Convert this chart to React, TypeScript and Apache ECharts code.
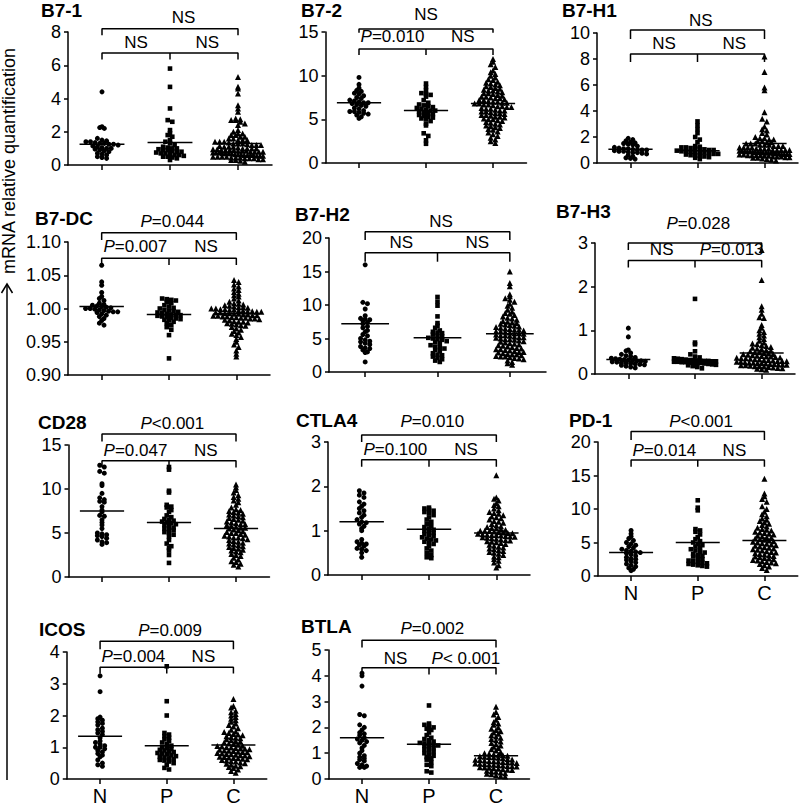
import React, { useEffect, useRef } from "react";
import * as echarts from "echarts";

const GROUPS = ["N", "P", "C"];

// ---------- data ----------
const B71_N = [4.4, 2.3, 2.25, 2.2, 1.6, 1.5, 1.45, 1.4, 1.4, 1.35, 1.3, 1.3, 1.25, 1.25, 1.2, 1.15, 1.1, 1.05, 1.0, 1.0, 0.95, 0.9, 0.85, 0.8, 0.7, 0.65, 0.6, 0.5, 0.45, 0.4];
const B71_P = [5.8, 4.7, 3.4, 2.7, 2.6, 2.1, 1.9, 1.8, 1.7, 1.5, 1.4, 1.3, 1.2, 1.1, 1.05, 1.0, 1.0, 0.95, 0.9, 0.9, 0.85, 0.8, 0.8, 0.75, 0.7, 0.7, 0.65, 0.6, 0.6, 0.55, 0.5, 0.5, 0.45, 0.4, 0.3];
const B71_C = [5.3, 4.7, 4.6, 4.3, 3.6, 3.4, 3.2, 2.8, 2.75, 2.7, 2.7, 2.6, 2.5, 2.4, 2.1, 2.0, 1.9, 1.9, 1.8, 1.8, 1.7, 1.7, 1.6, 1.6, 1.5, 1.5, 1.5, 1.4, 1.4, 1.4, 1.35, 1.3, 1.3, 1.3, 1.25, 1.2, 1.2, 1.2, 1.15, 1.1, 1.1, 1.1, 1.05, 1.0, 1.0, 1.0, 1.0, 0.95, 0.95, 0.9, 0.9, 0.9, 0.9, 0.85, 0.85, 0.85, 0.8, 0.8, 0.8, 0.8, 0.75, 0.75, 0.75, 0.7, 0.7, 0.7, 0.7, 0.65, 0.65, 0.65, 0.6, 0.6, 0.6, 0.6, 0.55, 0.55, 0.55, 0.5, 0.5, 0.5, 0.5, 0.45, 0.45, 0.45, 0.4, 0.4, 0.4, 0.35, 0.35, 0.3, 0.3, 0.25, 0.2];
const B71_LINE = [1.25, 1.35, 1.3];

const B72_N = [9.8, 9.0, 8.6, 8.3, 8.2, 8.0, 7.9, 7.7, 7.5, 7.4, 7.2, 7.1, 7.0, 6.9, 6.9, 6.8, 6.7, 6.6, 6.5, 6.3, 6.2, 6.0, 5.9, 5.9, 5.8, 5.7, 5.6, 5.5, 5.3, 5.1];
const B72_P = [9.1, 8.7, 8.3, 8.0, 7.9, 7.8, 7.6, 7.2, 6.9, 6.7, 6.6, 6.5, 6.4, 6.3, 6.2, 6.1, 6.0, 6.0, 5.9, 5.8, 5.7, 5.6, 5.5, 5.4, 5.3, 5.2, 5.1, 5.0, 4.8, 4.5, 4.3, 3.4, 3.1, 2.6, 2.2];
const B72_C = [11.9, 11.6, 11.3, 11.0, 10.6, 10.4, 10.2, 10.0, 9.8, 9.6, 9.5, 9.3, 9.2, 9.1, 9.0, 8.9, 8.8, 8.7, 8.6, 8.5, 8.4, 8.3, 8.3, 8.2, 8.1, 8.0, 8.0, 7.9, 7.8, 7.7, 7.6, 7.6, 7.5, 7.4, 7.4, 7.3, 7.2, 7.2, 7.1, 7.0, 7.0, 6.9, 6.9, 6.8, 6.8, 6.7, 6.7, 6.6, 6.5, 6.5, 6.4, 6.4, 6.3, 6.2, 6.2, 6.1, 6.0, 6.0, 5.9, 5.9, 5.8, 5.7, 5.7, 5.6, 5.5, 5.5, 5.4, 5.3, 5.3, 5.2, 5.1, 5.0, 5.0, 4.9, 4.8, 4.7, 4.6, 4.5, 4.4, 4.3, 4.2, 4.1, 4.0, 3.9, 3.8, 3.6, 3.5, 3.3, 3.1, 2.9, 2.7, 2.5, 2.3];
const B72_LINE = [6.9, 6.0, 6.8];

const B7H1_N = [1.9, 1.8, 1.7, 1.6, 1.55, 1.5, 1.45, 1.4, 1.3, 1.2, 1.15, 1.1, 1.1, 1.05, 1.0, 1.0, 1.0, 0.95, 0.9, 0.9, 0.85, 0.8, 0.8, 0.75, 0.7, 0.6, 0.5, 0.4, 0.35, 0.3];
const B7H1_P = [3.2, 2.9, 2.6, 2.3, 2.0, 1.8, 1.6, 1.3, 1.25, 1.2, 1.2, 1.15, 1.1, 1.1, 1.05, 1.0, 1.0, 0.95, 0.9, 0.9, 0.85, 0.85, 0.8, 0.8, 0.75, 0.7, 0.7, 0.65, 0.6, 0.6, 0.55, 0.5, 0.45, 0.4, 0.3];
const B7H1_C = [8.2, 7.0, 5.8, 5.6, 3.9, 3.4, 3.2, 2.8, 2.6, 2.5, 2.3, 2.2, 2.0, 1.9, 1.9, 1.8, 1.8, 1.7, 1.7, 1.6, 1.6, 1.5, 1.5, 1.5, 1.4, 1.4, 1.4, 1.3, 1.3, 1.3, 1.2, 1.2, 1.2, 1.2, 1.1, 1.1, 1.1, 1.1, 1.0, 1.0, 1.0, 1.0, 1.0, 0.95, 0.95, 0.9, 0.9, 0.9, 0.9, 0.85, 0.85, 0.85, 0.8, 0.8, 0.8, 0.8, 0.75, 0.75, 0.75, 0.7, 0.7, 0.7, 0.7, 0.65, 0.65, 0.6, 0.6, 0.6, 0.6, 0.55, 0.55, 0.5, 0.5, 0.5, 0.45, 0.45, 0.4, 0.4, 0.35, 0.3, 0.25, 0.2];
const B7H1_LINE = [1.05, 0.95, 1.5];

const B7DC_N = [1.065, 1.04, 1.035, 1.024, 1.018, 1.015, 1.012, 1.008, 1.006, 1.005, 1.004, 1.003, 1.002, 1.001, 1.0, 1.0, 0.999, 0.998, 0.997, 0.996, 0.995, 0.995, 0.994, 0.992, 0.99, 0.988, 0.985, 0.982, 0.978, 0.975];
const B7DC_P = [1.015, 1.014, 1.013, 1.012, 1.01, 1.008, 1.005, 1.003, 1.001, 1.0, 0.998, 0.997, 0.996, 0.995, 0.994, 0.993, 0.992, 0.991, 0.99, 0.99, 0.989, 0.988, 0.987, 0.986, 0.985, 0.984, 0.983, 0.982, 0.98, 0.978, 0.975, 0.972, 0.968, 0.96, 0.925];
const B7DC_C = [1.043, 1.04, 1.036, 1.033, 1.03, 1.028, 1.025, 1.022, 1.02, 1.018, 1.015, 1.012, 1.01, 1.008, 1.007, 1.006, 1.005, 1.004, 1.003, 1.002, 1.002, 1.001, 1.0, 1.0, 0.999, 0.999, 0.998, 0.998, 0.997, 0.997, 0.996, 0.996, 0.995, 0.995, 0.994, 0.994, 0.993, 0.993, 0.992, 0.992, 0.991, 0.991, 0.99, 0.99, 0.989, 0.989, 0.988, 0.988, 0.987, 0.987, 0.986, 0.986, 0.985, 0.985, 0.984, 0.983, 0.982, 0.981, 0.98, 0.98, 0.979, 0.978, 0.977, 0.976, 0.975, 0.974, 0.972, 0.97, 0.968, 0.966, 0.964, 0.962, 0.96, 0.957, 0.954, 0.95, 0.946, 0.942, 0.937, 0.932, 0.928];
const B7DC_LINE = [1.003, 0.991, 0.992];

const B7H2_N = [16.0, 10.4, 10.2, 9.4, 8.4, 8.0, 7.9, 7.8, 7.7, 7.4, 7.2, 6.8, 6.6, 6.2, 6.0, 5.6, 5.4, 5.0, 4.8, 4.6, 4.5, 4.3, 4.1, 3.8, 3.6, 3.5, 3.3, 3.0, 2.9, 1.5];
const B7H2_P = [11.2, 10.5, 9.9, 8.3, 7.3, 6.9, 6.6, 6.2, 6.0, 5.9, 5.8, 5.6, 5.4, 5.3, 5.1, 5.0, 4.9, 4.8, 4.6, 4.5, 4.3, 4.0, 3.8, 3.7, 3.5, 3.3, 3.1, 2.8, 2.6, 2.5, 2.3, 2.1, 1.9, 1.7, 1.5];
const B7H2_C = [15.0, 13.3, 12.8, 11.6, 11.3, 11.0, 10.8, 10.5, 10.2, 9.9, 9.6, 9.3, 9.0, 8.8, 8.7, 8.5, 8.3, 8.1, 8.0, 7.8, 7.6, 7.5, 7.4, 7.3, 7.2, 7.1, 7.0, 6.9, 6.8, 6.7, 6.6, 6.5, 6.4, 6.3, 6.3, 6.2, 6.1, 6.1, 6.0, 5.9, 5.8, 5.8, 5.7, 5.6, 5.5, 5.5, 5.4, 5.3, 5.2, 5.2, 5.1, 5.0, 4.9, 4.9, 4.8, 4.7, 4.6, 4.5, 4.4, 4.3, 4.2, 4.1, 4.0, 3.9, 3.8, 3.7, 3.6, 3.5, 3.4, 3.4, 3.3, 3.2, 3.1, 3.0, 3.0, 2.9, 2.8, 2.7, 2.6, 2.6, 2.5, 2.4, 2.3, 2.3, 2.2, 2.1, 2.0, 1.9, 1.7, 1.5, 1.3, 1.1];
const B7H2_LINE = [7.2, 5.1, 5.7];

const B7H3_N = [1.05, 0.85, 0.55, 0.53, 0.48, 0.45, 0.42, 0.4, 0.38, 0.36, 0.35, 0.34, 0.33, 0.32, 0.31, 0.3, 0.3, 0.29, 0.28, 0.27, 0.26, 0.25, 0.24, 0.23, 0.22, 0.21, 0.2, 0.18, 0.16, 0.14];
const B7H3_P = [1.72, 0.72, 0.68, 0.52, 0.45, 0.4, 0.38, 0.36, 0.35, 0.34, 0.33, 0.32, 0.32, 0.31, 0.3, 0.3, 0.3, 0.29, 0.29, 0.28, 0.28, 0.27, 0.27, 0.26, 0.26, 0.25, 0.25, 0.24, 0.23, 0.22, 0.21, 0.2, 0.18, 0.16, 0.13];
const B7H3_C = [2.84, 2.15, 1.55, 1.47, 1.38, 1.3, 1.28, 1.12, 1.06, 1.0, 0.96, 0.92, 0.88, 0.84, 0.8, 0.76, 0.72, 0.7, 0.68, 0.66, 0.64, 0.62, 0.6, 0.58, 0.57, 0.55, 0.54, 0.52, 0.5, 0.5, 0.48, 0.47, 0.46, 0.45, 0.44, 0.43, 0.42, 0.41, 0.4, 0.4, 0.39, 0.38, 0.37, 0.36, 0.36, 0.35, 0.34, 0.33, 0.32, 0.32, 0.31, 0.3, 0.3, 0.29, 0.28, 0.28, 0.27, 0.26, 0.26, 0.25, 0.25, 0.24, 0.23, 0.23, 0.22, 0.22, 0.21, 0.2, 0.2, 0.19, 0.18, 0.18, 0.17, 0.16, 0.15, 0.14, 0.13, 0.12, 0.11, 0.1];
const B7H3_LINE = [0.33, 0.32, 0.48];

const CD28_N = [12.7, 12.5, 12.0, 11.8, 10.6, 10.4, 9.5, 9.0, 8.8, 8.6, 8.5, 8.0, 7.6, 7.4, 7.0, 6.9, 6.5, 6.2, 5.9, 5.5, 5.0, 4.9, 4.8, 4.7, 4.6, 4.4, 4.2, 4.0, 3.9, 3.7];
const CD28_P = [12.5, 12.2, 9.8, 9.6, 8.2, 8.0, 7.9, 7.6, 7.4, 7.0, 6.8, 6.6, 6.5, 6.4, 6.3, 6.2, 6.1, 6.0, 5.9, 5.8, 5.6, 5.5, 5.4, 5.3, 5.1, 5.0, 4.8, 4.6, 4.2, 3.8, 3.5, 3.3, 3.0, 2.5, 1.6];
const CD28_C = [10.5, 10.2, 9.9, 9.6, 9.3, 9.1, 8.9, 8.7, 8.5, 8.2, 7.9, 7.7, 7.6, 7.5, 7.4, 7.3, 7.2, 7.1, 7.0, 6.9, 6.8, 6.7, 6.6, 6.5, 6.4, 6.3, 6.2, 6.1, 6.0, 6.0, 5.9, 5.8, 5.7, 5.6, 5.6, 5.5, 5.4, 5.3, 5.2, 5.1, 5.0, 5.0, 4.9, 4.8, 4.7, 4.6, 4.5, 4.5, 4.4, 4.3, 4.2, 4.1, 4.0, 3.9, 3.8, 3.7, 3.6, 3.5, 3.4, 3.3, 3.2, 3.1, 3.0, 2.9, 2.8, 2.6, 2.5, 2.4, 2.2, 2.0, 1.8, 1.7, 1.5, 1.4, 1.2];
const CD28_LINE = [7.5, 6.2, 5.5];

const CTLA4_N = [1.9, 1.85, 1.8, 1.75, 1.65, 1.6, 1.55, 1.5, 1.45, 1.4, 1.35, 1.3, 1.25, 1.2, 1.18, 1.15, 1.1, 1.05, 1.0, 0.8, 0.75, 0.72, 0.7, 0.68, 0.65, 0.6, 0.58, 0.55, 0.5, 0.4];
const CTLA4_P = [1.52, 1.5, 1.48, 1.45, 1.42, 1.4, 1.35, 1.3, 1.25, 1.2, 1.15, 1.1, 1.08, 1.05, 1.02, 1.0, 0.98, 0.95, 0.92, 0.9, 0.88, 0.85, 0.82, 0.8, 0.78, 0.75, 0.72, 0.7, 0.65, 0.6, 0.55, 0.5, 0.45, 0.4, 0.38];
const CTLA4_C = [2.25, 1.75, 1.72, 1.68, 1.62, 1.58, 1.55, 1.5, 1.46, 1.42, 1.4, 1.38, 1.35, 1.32, 1.3, 1.28, 1.25, 1.22, 1.2, 1.18, 1.15, 1.12, 1.1, 1.08, 1.06, 1.05, 1.04, 1.02, 1.0, 1.0, 0.99, 0.98, 0.97, 0.96, 0.95, 0.94, 0.93, 0.92, 0.91, 0.9, 0.9, 0.89, 0.88, 0.87, 0.86, 0.85, 0.84, 0.83, 0.82, 0.8, 0.79, 0.78, 0.76, 0.75, 0.74, 0.72, 0.7, 0.68, 0.66, 0.64, 0.62, 0.6, 0.58, 0.56, 0.54, 0.52, 0.5, 0.48, 0.45, 0.42, 0.4, 0.36, 0.32, 0.28, 0.22, 0.17];
const CTLA4_LINE = [1.2, 1.03, 0.95];

const PD1_N = [6.8, 6.3, 5.9, 5.6, 5.3, 5.0, 4.8, 4.6, 4.4, 4.2, 4.0, 3.8, 3.7, 3.6, 3.5, 3.4, 3.2, 3.0, 2.8, 2.6, 2.5, 2.4, 2.2, 2.0, 1.8, 1.6, 1.4, 1.2, 1.0, 0.8];
const PD1_P = [11.3, 10.2, 9.8, 7.0, 6.8, 6.6, 6.2, 5.8, 5.5, 5.2, 5.0, 4.8, 4.6, 4.4, 4.2, 4.0, 3.8, 3.6, 3.5, 3.3, 3.1, 3.0, 2.9, 2.7, 2.5, 2.3, 2.2, 2.1, 2.0, 1.9, 1.8, 1.7, 1.6, 1.5, 1.4];
const PD1_C = [14.5, 12.3, 11.9, 11.5, 11.1, 10.4, 10.0, 9.6, 9.2, 8.9, 8.6, 8.4, 8.2, 8.0, 7.8, 7.6, 7.4, 7.2, 7.0, 6.9, 6.8, 6.6, 6.5, 6.4, 6.3, 6.2, 6.0, 5.9, 5.8, 5.7, 5.6, 5.5, 5.4, 5.3, 5.2, 5.1, 5.0, 4.9, 4.8, 4.7, 4.6, 4.5, 4.4, 4.3, 4.2, 4.1, 4.0, 3.9, 3.8, 3.7, 3.6, 3.5, 3.4, 3.3, 3.2, 3.1, 3.0, 2.9, 2.8, 2.7, 2.6, 2.5, 2.4, 2.3, 2.2, 2.1, 2.0, 1.9, 1.8, 1.6, 1.4, 1.2, 0.9];
const PD1_LINE = [3.5, 5.0, 5.3];

const ICOS_N = [3.25, 2.75, 1.95, 1.9, 1.85, 1.8, 1.75, 1.7, 1.6, 1.55, 1.5, 1.45, 1.4, 1.3, 1.2, 1.15, 1.1, 1.05, 1.0, 1.0, 0.95, 0.9, 0.85, 0.8, 0.75, 0.7, 0.6, 0.5, 0.45, 0.4];
const ICOS_P = [3.55, 2.45, 2.0, 1.45, 1.4, 1.35, 1.3, 1.25, 1.2, 1.15, 1.1, 1.05, 1.0, 0.98, 0.95, 0.92, 0.9, 0.88, 0.85, 0.82, 0.8, 0.78, 0.75, 0.72, 0.7, 0.68, 0.65, 0.62, 0.6, 0.58, 0.55, 0.5, 0.45, 0.35, 0.3];
const ICOS_C = [2.52, 2.3, 2.25, 2.15, 2.1, 2.05, 2.0, 1.95, 1.9, 1.85, 1.8, 1.75, 1.7, 1.65, 1.6, 1.55, 1.5, 1.48, 1.45, 1.42, 1.4, 1.38, 1.35, 1.32, 1.3, 1.28, 1.25, 1.22, 1.2, 1.18, 1.15, 1.12, 1.1, 1.08, 1.05, 1.04, 1.02, 1.0, 0.99, 0.98, 0.96, 0.95, 0.94, 0.92, 0.9, 0.89, 0.88, 0.86, 0.85, 0.84, 0.82, 0.8, 0.79, 0.78, 0.76, 0.75, 0.74, 0.72, 0.7, 0.69, 0.68, 0.66, 0.65, 0.64, 0.62, 0.6, 0.58, 0.56, 0.55, 0.52, 0.5, 0.48, 0.45, 0.42, 0.4, 0.38, 0.35, 0.3, 0.25, 0.2];
const ICOS_LINE = [1.35, 1.05, 1.07];

const BTLA_N = [4.1, 4.0, 3.6, 2.5, 2.45, 2.1, 2.0, 1.9, 1.8, 1.75, 1.7, 1.6, 1.55, 1.5, 1.45, 1.4, 1.3, 1.2, 1.1, 1.0, 0.9, 0.85, 0.8, 0.75, 0.7, 0.6, 0.55, 0.5, 0.45, 0.45];
const BTLA_P = [2.85, 2.15, 2.1, 2.05, 2.0, 1.95, 1.9, 1.8, 1.7, 1.6, 1.55, 1.5, 1.45, 1.4, 1.38, 1.35, 1.32, 1.3, 1.28, 1.25, 1.2, 1.15, 1.1, 1.05, 1.0, 0.95, 0.9, 0.85, 0.8, 0.75, 0.65, 0.55, 0.5, 0.3, 0.25];
const BTLA_C = [2.8, 2.6, 2.5, 2.4, 2.3, 2.2, 2.15, 2.1, 2.0, 1.95, 1.9, 1.85, 1.8, 1.75, 1.7, 1.65, 1.6, 1.55, 1.5, 1.45, 1.4, 1.35, 1.3, 1.25, 1.2, 1.15, 1.1, 1.05, 1.0, 0.98, 0.96, 0.94, 0.92, 0.9, 0.88, 0.86, 0.85, 0.84, 0.82, 0.8, 0.78, 0.76, 0.75, 0.74, 0.72, 0.7, 0.69, 0.68, 0.66, 0.65, 0.64, 0.62, 0.6, 0.59, 0.58, 0.56, 0.55, 0.54, 0.52, 0.5, 0.49, 0.48, 0.46, 0.45, 0.44, 0.42, 0.4, 0.38, 0.36, 0.35, 0.32, 0.3, 0.28, 0.25, 0.22, 0.2, 0.18, 0.15, 0.12, 0.1];
const BTLA_LINE = [1.6, 1.35, 0.9];

// ---------- panel layout ----------
const PANELS = [
  { name: "B7-1", groups: [B71_N, B71_P, B71_C], line: B71_LINE, yMin: 0, yMax: 8, yStep: 2, dec: 0,
    grid: { left: 68, top: 32, width: 204, height: 133 }, title: [41, 0], showX: false,
    top: { y: 8.2, tick: 7.8, text: "NS", ty: 8.85, tx: 2.2 }, low: { y: 6.74, tick: 6.35, ty: 7.35, a: "NS", b: "NS" } },
  { name: "B7-2", groups: [B72_N, B72_P, B72_C], line: B72_LINE, yMin: 0, yMax: 15, yStep: 5, dec: 0,
    grid: { left: 325.5, top: 32, width: 201, height: 131 }, title: [301, 0], showX: false,
    top: { y: 15.35, tick: 14.9, text: "NS", ty: 16.95, tx: 2 }, low: { y: 13.06, tick: 12.37, ty: 14.43, a: "P=0.010", b: "NS" } },
  { name: "B7-H1", groups: [B7H1_N, B7H1_P, B7H1_C], line: B7H1_LINE, yMin: 0, yMax: 10, yStep: 2, dec: 0,
    grid: { left: 597, top: 33, width: 201, height: 130 }, title: [562, 0], showX: false,
    top: { y: 10.23, tick: 9.54, text: "NS", ty: 11.0, tx: 2.05 }, low: { y: 8.38, tick: 7.77, ty: 9.23, a: "NS", b: "NS" } },
  { name: "B7-DC", groups: [B7DC_N, B7DC_P, B7DC_C], line: B7DC_LINE, yMin: 0.9, yMax: 1.1, yStep: 0.05, dec: 2,
    grid: { left: 68, top: 242, width: 202, height: 133 }, title: [35, 208], showX: false,
    top: { y: 1.114, tick: 1.103, text: "P=0.044", ty: 1.1305, tx: 2.05 }, low: { y: 1.0755, tick: 1.0654, ty: 1.093, a: "P=0.007", b: "NS" } },
  { name: "B7-H2", groups: [B7H2_N, B7H2_P, B7H2_C], line: B7H2_LINE, yMin: 0, yMax: 20, yStep: 5, dec: 0,
    grid: { left: 329, top: 238, width: 217, height: 134 }, title: [295, 204], showX: false,
    top: { y: 20.94, tick: 19.7, text: "NS", ty: 22.4, tx: 2.05 }, low: { y: 17.8, tick: 16.46, ty: 19.3, a: "NS", b: "NS" } },
  { name: "B7-H3", groups: [B7H3_N, B7H3_P, B7H3_C], line: B7H3_LINE, yMin: 0, yMax: 3, yStep: 1, dec: 0,
    grid: { left: 595, top: 243, width: 200, height: 131 }, title: [556, 201], showX: false,
    top: { y: 3.0, tick: 2.84, text: "P=0.028", ty: 3.45, tx: 2.05 }, low: { y: 2.6, tick: 2.44, ty: 2.84, a: "NS", b: "P=0.013" } },
  { name: "CD28", groups: [CD28_N, CD28_P, CD28_C], line: CD28_LINE, yMin: 0, yMax: 15, yStep: 5, dec: 0,
    grid: { left: 68.5, top: 445, width: 201, height: 132 }, title: [38, 412], showX: false,
    top: { y: 16.25, tick: 15.4, text: "P<0.001", ty: 17.5, tx: 2.05 }, low: { y: 13.2, tick: 12.45, ty: 14.4, a: "P=0.047", b: "NS" } },
  { name: "CTLA4", groups: [CTLA4_N, CTLA4_P, CTLA4_C], line: CTLA4_LINE, yMin: 0, yMax: 3, yStep: 1, dec: 0,
    grid: { left: 328, top: 442, width: 202, height: 133 }, title: [296, 410], showX: false,
    top: { y: 3.16, tick: 3.0, text: "P=0.010", ty: 3.46, tx: 2.05 }, low: { y: 2.6, tick: 2.44, ty: 2.82, a: "P=0.100", b: "NS" } },
  { name: "PD-1", groups: [PD1_N, PD1_P, PD1_C], line: PD1_LINE, yMin: 0, yMax: 20, yStep: 5, dec: 0,
    grid: { left: 597.75, top: 442, width: 200, height: 134 }, title: [569, 410], showX: true,
    top: { y: 21.55, tick: 20.3, text: "P<0.001", ty: 23.0, tx: 2.05 }, low: { y: 17.3, tick: 16.3, ty: 18.8, a: "P=0.014", b: "NS" } },
  { name: "ICOS", groups: [ICOS_N, ICOS_P, ICOS_C], line: ICOS_LINE, yMin: 0, yMax: 4, yStep: 1, dec: 0,
    grid: { left: 66.75, top: 652, width: 200, height: 131 }, title: [39, 619], showX: true,
    top: { y: 4.34, tick: 4.09, text: "P=0.009", ty: 4.67, tx: 2.05 }, low: { y: 3.52, tick: 3.32, ty: 3.86, a: "P=0.004", b: "NS" } },
  { name: "BTLA", groups: [BTLA_N, BTLA_P, BTLA_C], line: BTLA_LINE, yMin: 0, yMax: 5, yStep: 1, dec: 0,
    grid: { left: 328.5, top: 650, width: 201, height: 132 }, title: [301, 616], showX: true,
    top: { y: 5.38, tick: 5.1, text: "P=0.002", ty: 5.82, tx: 2.05 }, low: { y: 4.31, tick: 4.05, ty: 4.68, a: "NS", b: "P< 0.001" } },
];

const SYMBOLS = ["circle", "rect", "triangle"];
const SYMBOL_SIZES = [5, 4.6, 6];
const MAX_ROW_W = [34, 42, 50];
const BIN_PX = 3.6;
const STEP_PX = 4.6;
const HALF_LINE = 0.33;
const FONT_NAME = "Liberation Sans";
const FONT = "'Liberation Sans', Arial, sans-serif";
const INK = "#000";
const LABEL_SIZE = 17;

function swarm(values: number[], center: number, pxY: number, pxX: number, yMin: number, maxW: number) {
  const bins = new Map<number, number[]>();
  values.forEach((v) => {
    const k = Math.round(((v - yMin) * pxY) / BIN_PX);
    if (!bins.has(k)) bins.set(k, []);
    bins.get(k)!.push(v);
  });
  const out: number[][] = [];
  bins.forEach((list) => {
    const n = list.length;
    const step = n > 1 ? Math.min(STEP_PX, maxW / (n - 1)) : 0;
    list.forEach((v, i) => out.push([center + ((i - (n - 1) / 2) * step) / pxX, v]));
  });
  return out;
}

const BASE_GRAPHIC = [
  { type: "line", shape: { x1: 7, y1: 780, x2: 7, y2: 284 }, style: { stroke: INK, lineWidth: 1.5 } },
  { type: "polyline", shape: { points: [[1.5, 293], [7, 284], [12.5, 293]] }, style: { stroke: INK, lineWidth: 1.5, fill: null } },
  {
    type: "text", x: 9, y: 161, rotation: Math.PI / 2,
    style: { text: "mRNA relative quantification", fontSize: 18, fontFamily: FONT, fill: INK, align: "center", verticalAlign: "middle" },
  },
];

function buildOption() {
  const grids: any[] = [];
  const xAxes: any[] = [];
  const yAxes: any[] = [];
  const series: any[] = [];
  const titles: any[] = [];

  PANELS.forEach((p, idx) => {
    grids.push({ ...p.grid, containLabel: false });
    titles.push({
      text: p.name, left: p.title[0], top: p.title[1], padding: 0,
      textStyle: { fontSize: 19, lineHeight: 21, fontWeight: "bold", fontFamily: FONT, color: INK },
    });
    xAxes.push({
      type: "value", gridIndex: idx, min: 0.5, max: 3.5,
      axisLine: { show: true, onZero: false, lineStyle: { color: INK, width: 1.5 } },
      axisTick: { show: true, customValues: [1, 2, 3], length: 5, lineStyle: { color: INK, width: 1.5 } },
      axisLabel: {
        show: p.showX, customValues: [1, 2, 3], margin: 7, fontSize: 20, fontFamily: FONT, color: INK,
        formatter: (v: number) => GROUPS[Math.round(v) - 1] || "",
      },
      splitLine: { show: false },
    });
    yAxes.push({
      type: "value", gridIndex: idx, min: p.yMin, max: p.yMax, interval: p.yStep,
      axisLine: { show: true, lineStyle: { color: INK, width: 1.5 } },
      axisTick: { show: true, length: 4, lineStyle: { color: INK, width: 1.5 } },
      axisLabel: {
        margin: 7, fontSize: 18, lineHeight: 14, fontFamily: FONT, color: INK,
        formatter: (v: number) => (p.dec ? v.toFixed(p.dec) : String(Math.round(v))),
      },
      splitLine: { show: false },
    });

    const pxY = p.grid.height / (p.yMax - p.yMin);
    const pxX = p.grid.width / 3;

    p.groups.forEach((vals, g) => {
      series.push({
        type: "scatter", xAxisIndex: idx, yAxisIndex: idx, symbol: SYMBOLS[g], symbolSize: SYMBOL_SIZES[g],
        itemStyle: { color: INK, opacity: 1 }, silent: true, clip: false,
        data: swarm(vals, g + 1, pxY, pxX, p.yMin, MAX_ROW_W[g]),
      });
      series.push({
        type: "line", xAxisIndex: idx, yAxisIndex: idx, symbol: "none", silent: true,
        lineStyle: { color: INK, width: 1.5 },
        data: [[g + 1 - HALF_LINE, p.line[g]], [g + 1 + HALF_LINE, p.line[g]]],
      });
    });

    const brStyle = { color: INK, width: 1.5 };
    series.push({
      type: "line", xAxisIndex: idx, yAxisIndex: idx, symbol: "none", silent: true, clip: false, lineStyle: brStyle,
      data: [[1, p.top.tick], [1, p.top.y], [3, p.top.y], [3, p.top.tick]],
    });
    series.push({
      type: "line", xAxisIndex: idx, yAxisIndex: idx, symbol: "none", silent: true, clip: false, lineStyle: brStyle,
      data: [[1, p.low.tick], [1, p.low.y], [3, p.low.y], [3, p.low.tick]],
    });
    series.push({
      type: "line", xAxisIndex: idx, yAxisIndex: idx, symbol: "none", silent: true, clip: false, lineStyle: brStyle,
      data: [[2, p.low.y], [2, p.low.tick]],
    });
  });

  return {
    animation: false,
    backgroundColor: "#fff",
    textStyle: { fontFamily: FONT },
    title: titles,
    grid: grids,
    xAxis: xAxes,
    yAxis: yAxes,
    series,
    graphic: BASE_GRAPHIC,
  };
}

function measure(text: string, italic: boolean) {
  const c = document.createElement("canvas").getContext("2d");
  if (!c) return text.length * LABEL_SIZE * 0.55;
  c.font = (italic ? "italic " : "") + LABEL_SIZE + "px '" + FONT_NAME + "'";
  return c.measureText(text).width;
}

function labelGraphics(chart: any) {
  const out: any[] = [];
  const base = { fontSize: LABEL_SIZE, fontFamily: FONT, fill: INK, verticalAlign: "middle", align: "left" };
  PANELS.forEach((p, idx) => {
    const items: [number, number, string][] = [
      [p.top.tx, p.top.ty, p.top.text],
      [1.5, p.low.ty, p.low.a],
      [2.55, p.low.ty, p.low.b],
    ];
    items.forEach(([x, y, t]) => {
      const pt = chart.convertToPixel({ xAxisIndex: idx, yAxisIndex: idx }, [x, y]);
      if (!pt) return;
      if (t.startsWith("P")) {
        const rest = t.slice(1);
        const wP = measure("P", true);
        const wR = measure(rest, false);
        const x0 = pt[0] - (wP + wR) / 2;
        out.push({ type: "text", x: x0, y: pt[1], silent: true, style: { ...base, text: "P", fontStyle: "italic" } });
        out.push({ type: "text", x: x0 + wP, y: pt[1], silent: true, style: { ...base, text: rest } });
      } else {
        out.push({ type: "text", x: pt[0], y: pt[1], silent: true, style: { ...base, text: t, align: "center" } });
      }
    });
  });
  return out;
}

export default function App() {
  const ref = useRef<HTMLDivElement>(null);
  useEffect(() => {
    document.body.style.margin = "0";
    if (!ref.current) return;
    const chart = echarts.init(ref.current, undefined, { renderer: "svg" });
    chart.setOption(buildOption() as any);
    chart.setOption({ graphic: [...BASE_GRAPHIC, ...labelGraphics(chart)] } as any);
    return () => chart.dispose();
  }, []);
  return <div ref={ref} style={{ width: 799, height: 806 }} />;
}
